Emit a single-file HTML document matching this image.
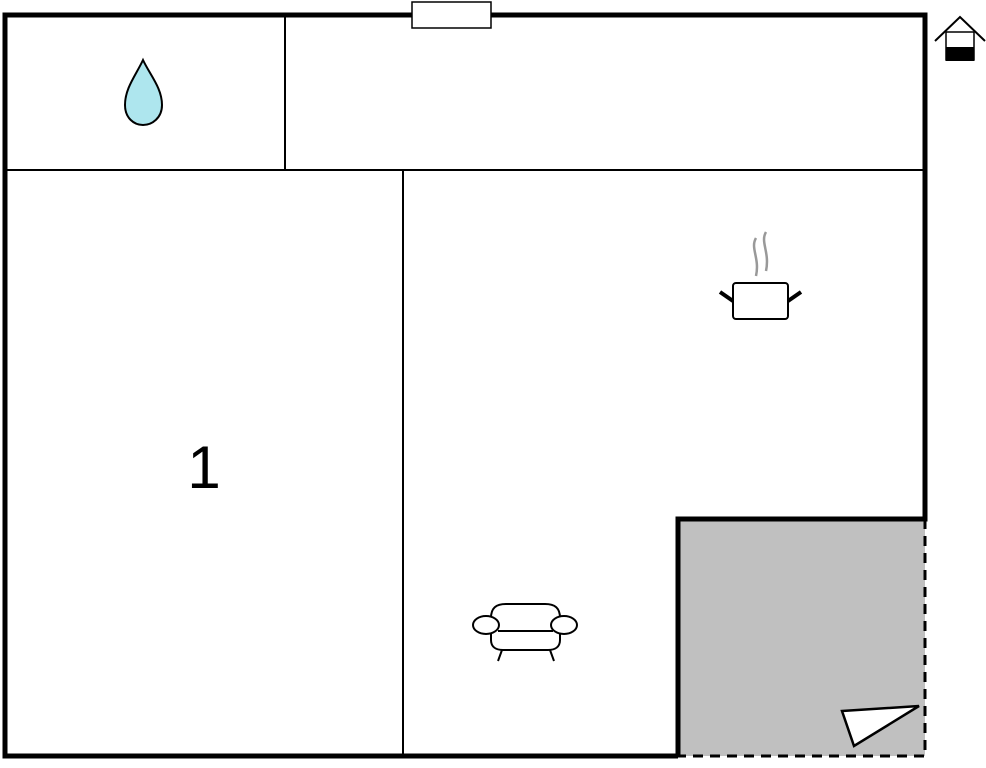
<!DOCTYPE html>
<html><head><style>html,body{margin:0;padding:0;background:#fff;width:986px;height:768px;overflow:hidden}</style></head>
<body>
<svg width="986" height="768" viewBox="0 0 986 768" xmlns="http://www.w3.org/2000/svg">
<rect x="678" y="519" width="247" height="237" fill="#c0c0c0"/>
<g stroke="#000" fill="none">
<path d="M678,756 L5,756 L5,15 L925,15 L925,519 L678,519 L678,756" stroke-width="5"/>
<path d="M925,519 L925,756 L678,756" stroke-width="3" stroke-dasharray="10,7"/>
<line x1="5" y1="170" x2="925" y2="170" stroke-width="2"/>
<line x1="285" y1="15" x2="285" y2="170" stroke-width="2"/>
<line x1="403" y1="170" x2="403" y2="756" stroke-width="2"/>
</g>
<rect x="412" y="2" width="79" height="26" fill="#fff" stroke="#000" stroke-width="1.5"/>
<path d="M143,60 C136,75 125,88 125,105 C125,118 134,125 143,125 C152,125 162,118 162,105 C162,88 150,75 143,60 Z" fill="#aee6ee" stroke="#000" stroke-width="2"/>
<text x="204" y="488" font-family="Liberation Sans, sans-serif" font-size="60" text-anchor="middle">1</text>
<!-- pot -->
<g stroke="#000" stroke-width="2" fill="#fff">
<rect x="733" y="283" width="55" height="36" rx="3"/>
</g>
<path d="M720,292 L733,301 M801,292 L788,301" stroke="#000" stroke-width="4"/>
<path d="M756,238 C750,248 760,258 756,276 M766,232 C760,242 770,252 766,271" stroke="#999" stroke-width="2.5" fill="none"/>
<!-- sofa -->
<g stroke="#000" stroke-width="2" fill="#fff">
<path d="M491,618 C491,608 496,604 506,604 L545,604 C555,604 560,608 560,618 L560,640 C560,647 555,650 548,650 L503,650 C496,650 491,647 491,640 Z"/>
<line x1="498" y1="631" x2="553" y2="631"/>
<ellipse cx="486" cy="625" rx="13" ry="9"/>
<ellipse cx="564" cy="625" rx="13" ry="9"/>
<line x1="502" y1="650" x2="498" y2="661"/>
<line x1="550" y1="650" x2="554" y2="661"/>
</g>
<!-- triangle -->
<path d="M842,711 L919,706 L854,746 Z" fill="#fff" stroke="#000" stroke-width="2.5"/>
<!-- house icon -->
<path d="M935,41 L960,17 L985,41" stroke="#000" stroke-width="2" fill="none"/>
<rect x="946" y="32" width="28" height="28" fill="#fff" stroke="#000" stroke-width="1.5"/>
<rect x="946" y="47" width="28" height="14" fill="#000"/>
</svg>
</body></html>
